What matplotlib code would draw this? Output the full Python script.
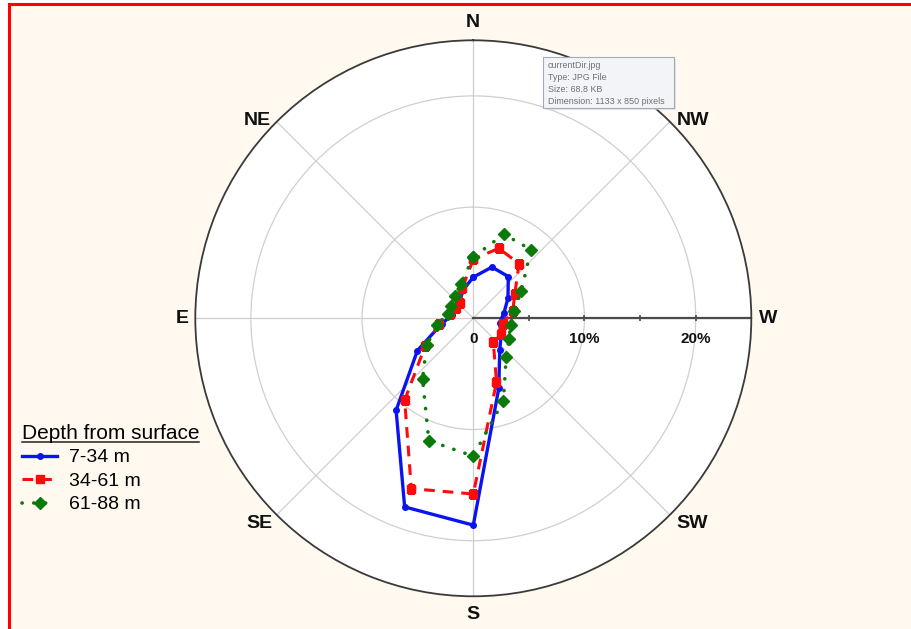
import numpy as np
import matplotlib
matplotlib.use('Agg')
import matplotlib.pyplot as plt
from matplotlib.patches import Rectangle
from matplotlib.lines import Line2D

plt.rcParams['font.family'] = ['Liberation Sans', 'DejaVu Sans']

# compass bearing of each bin (deg) and share of records (%)
directions = [0, 20, 40, 60, 80, 100, 120, 140, 160, 180, 200, 220, 240, 260, 280, 300, 320, 340]
depth_7_34 = [3.7, 2.7, 1.9, 1.7, 1.9, 2.9, 5.8, 10.8, 18.05, 18.6, 6.7, 3.7, 2.9, 2.4, 2.8, 3.6, 4.9, 4.9]
depth_34_61 = [5.3, 2.9, 1.85, 1.8, 2.1, 3.1, 5.0, 9.6, 16.3, 15.8, 6.1, 2.8, 2.9, 2.7, 3.6, 4.3, 6.4, 6.7]
depth_61_88 = [5.5, 3.3, 2.6, 2.3, 2.3, 3.3, 4.85, 7.1, 11.7, 12.4, 7.9, 4.6, 3.7, 3.4, 3.7, 5.0, 8.06, 8.05]
series_labels = ['7-34 m', '34-61 m', '61-88 m']

compass_angles = [0, 45, 90, 135, 180, 225, 270, 315]
compass_labels = ['N', 'NE', 'E', 'SE', 'S', 'SW', 'W', 'NW']
ring_values = [10, 20]
ring_labels = ['0', '10%', '20%']
r_max = 25

W, H = 912, 629
fig = plt.figure(figsize=(W / 100, H / 100), dpi=100, facecolor='white')

# cream page with red frame on left/top
fig.add_artist(Rectangle((9 / W, -0.1), 1.2, 1.1 - 4 / H, transform=fig.transFigure,
                         facecolor='#FFF9EF', edgecolor='#FF0000', lw=2.2, zorder=0))

cx, cy, rad = 473.3, 318.3, 278
ax = fig.add_axes([(cx - rad) / W, (H - cy - rad) / H, 2 * rad / W, 2 * rad / H],
                  projection='polar')
ax.set_facecolor('white')
ax.set_theta_zero_location('N')
ax.set_theta_direction(1)
ax.set_rlim(0, r_max)
ax.set_thetagrids(compass_angles, labels=[''] * 8)
ax.set_rgrids(ring_values, labels=[''] * 2)
ax.grid(color='#cfcfcf', lw=0.9)
ax.spines['polar'].set_color('#3a3a3a')
ax.spines['polar'].set_linewidth(1.3)

# compass labels sit just outside the rim (offsets in pixels)
label_offsets = [(0, 18), (-19, 1), (-13, 0), (-17, -9), (0, -18), (22, -9), (17, 0), (23, 1)]
for ang, lab, off in zip(compass_angles, compass_labels, label_offsets):
    ax.annotate(lab, (np.deg2rad(ang), r_max), xytext=off, textcoords='offset pixels',
                ha='center', va='center', fontsize=14, fontweight='bold', color='#111111',
                annotation_clip=False)

# radial scale along W
w_ang = np.deg2rad(270)
ax.plot([w_ang, w_ang], [0, r_max], color='#4a4a4a', lw=1.6, zorder=2, clip_on=False)
ax.plot([w_ang] * 4, [5, 10, 15, 20], ls='none', marker='|', ms=5, mew=1.2,
        color='#4a4a4a', zorder=2)
for r, lab in zip([0] + ring_values, ring_labels):
    ax.annotate(lab, (w_ang, r), xytext=(0, -15), textcoords='offset points',
                ha='center', va='center', fontsize=11, fontweight='bold', color='#111111')

theta = np.deg2rad(directions + directions[:1])
d1 = depth_7_34 + depth_7_34[:1]
d2 = depth_34_61 + depth_34_61[:1]
d3 = depth_61_88 + depth_61_88[:1]

l1, = ax.plot(theta, d1, color='#0A14F0', lw=2.4, marker='o', ms=4, label=series_labels[0], zorder=3)
l2, = ax.plot(theta, d2, color='#FF0A0A', lw=2.2, dashes=(3.5, 2.6), marker='s', ms=6,
              label=series_labels[1], zorder=4)
l3, = ax.plot(theta, d3, color='#0B7A0B', lw=2.6, dashes=(0.05, 3.2), dash_capstyle='round',
              marker='D', ms=6, label=series_labels[2], zorder=5)

leg = fig.legend(handles=[l1, l2, l3], loc='upper left', bbox_to_anchor=(22 / W, 1 - 424 / H),
                 frameon=False, title='Depth from surface', alignment='left', fontsize=14,
                 title_fontsize=15, borderpad=0, borderaxespad=0, handlelength=1.8,
                 handletextpad=0.6, labelspacing=0.3)

# tooltip left on the screenshot (with a faint drop shadow)
fig.add_artist(Rectangle((545 / W, 1 - 110 / H), 131 / W, 51 / H, transform=fig.transFigure,
                         facecolor='#D8D8D8', edgecolor='none', alpha=0.6, zorder=9))
fig.add_artist(Rectangle((543 / W, 1 - 108 / H), 131 / W, 51 / H, transform=fig.transFigure,
                         facecolor='#F3F4F8', edgecolor='#A3ACB8', lw=0.8, zorder=10))
fig.text(548 / W, 1 - 61 / H, 'currentDir.jpg\nType: JPG File\nSize: 68.8 KB\nDimension: 1133 x 850 pixels',
         ha='left', va='top', fontsize=6.4, color='#707070', linespacing=1.42, zorder=11)

# underline legend title
fig.canvas.draw()
bb = leg.get_title().get_window_extent()
fig.add_artist(Line2D([bb.x0 / W, bb.x1 / W], [(bb.y0 + 1) / H] * 2, transform=fig.transFigure,
                      color='#222222', lw=1.1))

fig.savefig('out.png', dpi=100, facecolor=fig.get_facecolor())
